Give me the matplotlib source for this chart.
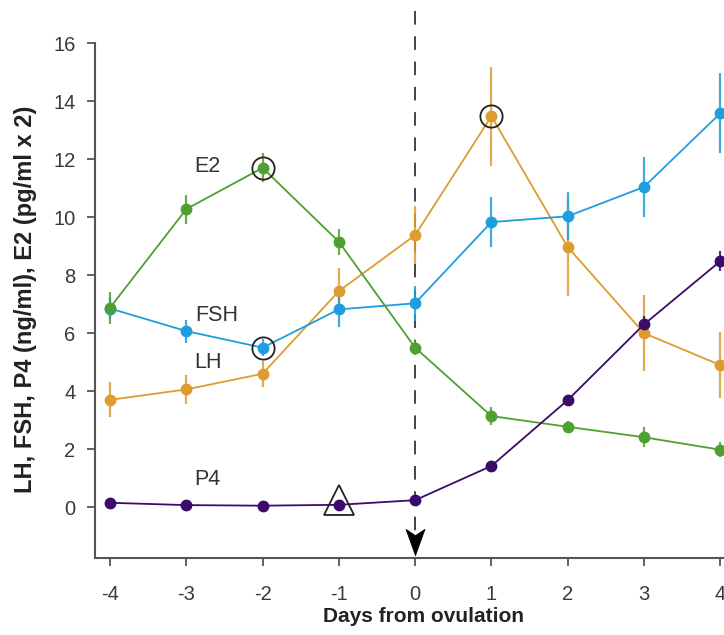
import matplotlib
matplotlib.use("Agg")
import matplotlib.pyplot as plt
from matplotlib.path import Path

plt.rcParams['font.family'] = ['Liberation Sans', 'DejaVu Sans']

days = [-4, -3, -2, -1, 0, 1, 2, 3, 4]

e2 = [6.88, 10.28, 11.7, 9.15, 5.5, 3.14, 2.77, 2.41, 1.98]
e2_err = [0.55, 0.5, 0.5, 0.45, 0.25, 0.3, 0.2, 0.35, 0.25]

fsh = [6.85, 6.07, 5.5, 6.82, 7.03, 9.83, 10.03, 11.04, 13.58]
fsh_err = [0.35, 0.4, 0.3, 0.6, 0.6, 0.85, 0.83, 1.05, 1.38]

lh = [3.7, 4.06, 4.6, 7.45, 9.38, 13.48, 8.97, 6.0, 4.9]
lh_err = [0.6, 0.5, 0.45, 0.8, 1.0, 1.7, 1.7, 1.3, 1.15]

p4 = [0.15, 0.07, 0.05, 0.08, 0.24, 1.42, 3.69, 6.3, 8.48]
p4_err = [0.05, 0.04, 0.04, 0.04, 0.05, 0.1, 0.15, 0.3, 0.35]

colors = {'E2': '#4f9f31', 'FSH': '#1e9ddf', 'LH': '#dd9c2f', 'P4': '#3a0b6b'}

label_pos = {'E2': (-2.73, 11.75), 'FSH': (-2.6, 6.6), 'LH': (-2.72, 5.0), 'P4': (-2.73, 0.95)}

series = [('LH', lh, lh_err), ('FSH', fsh, fsh_err), ('E2', e2, e2_err), ('P4', p4, p4_err)]

fig = plt.figure(figsize=(7.24, 6.35), dpi=100)
ax = fig.add_axes([0.131, 0.121, 0.869, 0.811])

for name, vals, errs in series:
    c = colors[name]
    ax.errorbar(days, vals, yerr=errs, fmt='none', ecolor=c, elinewidth=1.6,
                capsize=0, alpha=0.85, zorder=2)
    ax.plot(days, vals, '-', color=c, lw=1.3, zorder=3)
    ax.plot(days, vals, 'o', color=c, ms=7.5, mec=c, zorder=4)
    tx, ty = label_pos[name]
    ax.text(tx, ty, name, fontsize=15.5, color='#333333', ha='center', va='center')

# highlighted peaks / onset
circ_pts = [(-2, e2[2]), (-2, fsh[2]), (1, lh[5])]
for x, y in circ_pts:
    ax.plot(x, y, 'o', ms=16, mfc='none', mec='#222222', mew=1.3, zorder=5)
ax.plot(-1, p4[3] + 0.15, '^', ms=21, mfc='none', mec='#222222', mew=1.3, zorder=5)

# ovulation marker: dashed line ending in a notched arrowhead
ax.plot([0, 0], [17.1, -0.95], ls=(0, (7, 6)), color='#444444', lw=1.4,
        clip_on=False, zorder=1)
head = Path([(0, -12.5), (-9, 12.5), (0, 6.5), (9, 12.5), (0, -12.5)],
            [Path.MOVETO, Path.LINETO, Path.LINETO, Path.LINETO, Path.CLOSEPOLY])
ax.plot([0], [-1.2], marker=head, ms=19, color='black', mec='black', mew=0.5,
        clip_on=False, zorder=6)

ax.set_xlim(-4.2, 4.05)
ax.set_ylim(-1.76, 16)
ax.set_xticks(days)
ax.set_xticklabels([str(d) for d in days])
ax.set_yticks(range(0, 17, 2))

for s in ['top', 'right']:
    ax.spines[s].set_visible(False)
for s in ['left', 'bottom']:
    ax.spines[s].set_color('#555555')
    ax.spines[s].set_linewidth(1.5)
ax.tick_params(axis='both', colors='#555555', labelcolor='#3a3a3a', labelsize=14.5,
               length=6, width=1.3, direction='out')
ax.tick_params(axis='x', pad=13)
ax.tick_params(axis='y', pad=8)

ax.set_xlabel('Days from ovulation', fontsize=15, fontweight='bold', color='#222222')
ax.xaxis.set_label_coords((424 - 95) / (724 - 95), -0.095)
ax.set_ylabel('LH, FSH, P4 (ng/ml), E2 (pg/ml x 2)', fontsize=17, fontweight='bold',
              color='#222222')
ax.yaxis.set_label_coords((37 - 95) / (724 - 95), (635 - 299 - 0.121 * 635) / (0.811 * 635))

fig.savefig('out.png', dpi=100)
